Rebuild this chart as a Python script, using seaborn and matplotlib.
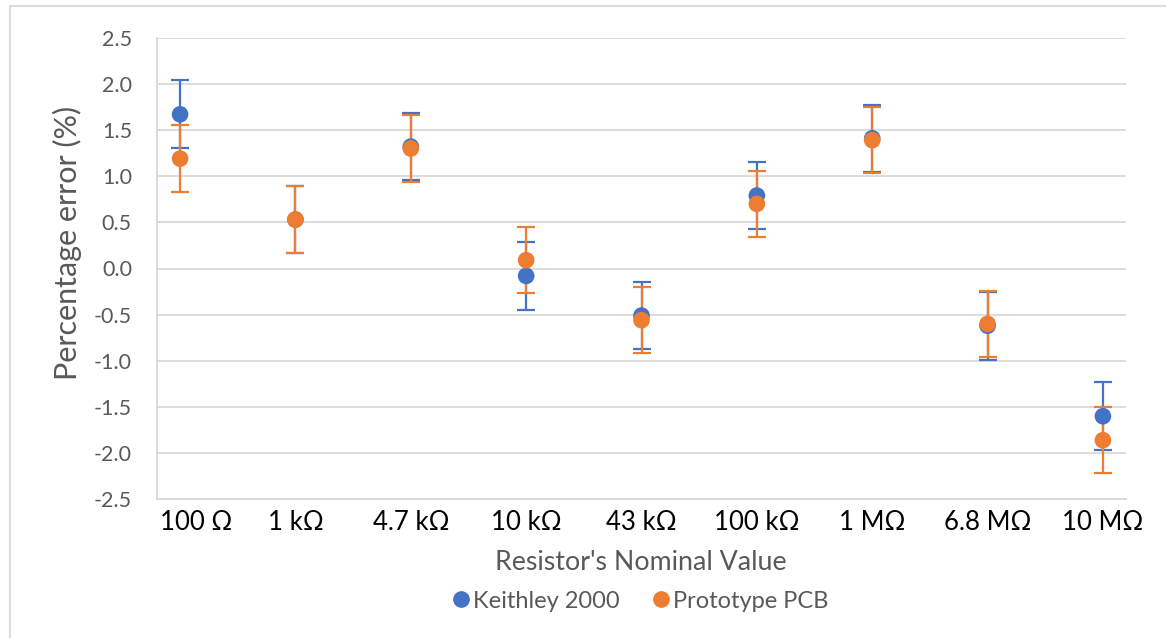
import matplotlib
matplotlib.use("Agg")
import matplotlib.pyplot as plt
import matplotlib.transforms as mtransforms
import seaborn as sns
import pandas as pd
from matplotlib.lines import Line2D

categories = ["100 Ω", "1 kΩ", "4.7 kΩ", "10 kΩ", "43 kΩ", "100 kΩ", "1 MΩ", "6.8 MΩ", "10 MΩ"]
keithley = [1.67, 0.53, 1.32, -0.08, -0.51, 0.79, 1.41, -0.62, -1.60]
prototype = [1.19, 0.53, 1.30, 0.09, -0.56, 0.70, 1.39, -0.60, -1.86]
keithley_err = [0.37, 0.36, 0.36, 0.365, 0.36, 0.36, 0.36, 0.37, 0.37]
prototype_err = [0.36, 0.36, 0.36, 0.36, 0.36, 0.36, 0.36, 0.36, 0.36]
series_names = ["Keithley 2000", "Prototype PCB"]
yticks = [-2.5, -2.0, -1.5, -1.0, -0.5, 0.0, 0.5, 1.0, 1.5, 2.0, 2.5]

BLUE = "#4472C4"
ORANGE = "#ED7D31"
GRID = "#D9D9D9"
TXT = "#595959"

sns.set_theme(style="white")
plt.rcParams["font.family"] = ["Lato", "DejaVu Sans"]
plt.rcParams["axes.unicode_minus"] = False

W, H = 1166, 638
fig = plt.figure(figsize=(W / 100, H / 100), dpi=100)
ax = fig.add_axes([157 / W, 1 - 499.3 / H, (1126 - 157) / W, (499.3 - 37.7) / H])

x = list(range(1, len(categories) + 1))
df = pd.DataFrame({
    "x": x * 2,
    "value": keithley + prototype,
    "err": keithley_err + prototype_err,
    "series": [series_names[0]] * len(x) + [series_names[1]] * len(x),
})

for (name, col, z) in [(series_names[0], BLUE, 3), (series_names[1], ORANGE, 4)]:
    sub = df[df["series"] == name]
    ax.errorbar(sub["x"], sub["value"], yerr=sub["err"], fmt="none",
                ecolor=col, elinewidth=1.6, capsize=6.5, capthick=1.6, zorder=z)

sns.scatterplot(data=df, x="x", y="value", hue="series",
                palette={series_names[0]: BLUE, series_names[1]: ORANGE},
                s=12 ** 2, edgecolor="none", legend=False, ax=ax, zorder=6)

ax.set_xlim(0.8, 9.2)
ax.set_ylim(-2.5, 2.5)
ax.set_yticks(yticks)
ax.set_yticklabels([f"{v:.1f}" for v in yticks])
ax.set_xticks(x)
ax.set_xticklabels(categories)
ax.tick_params(axis="y", labelsize=15.5, labelcolor=TXT, length=0, pad=18)
ax.tick_params(axis="x", labelsize=18.5, labelcolor="#000000", length=0, pad=8)
ax.grid(axis="y", color=GRID, linewidth=1.3)
ax.grid(axis="x", visible=False)
ax.set_axisbelow(True)
for s in ["top", "right"]:
    ax.spines[s].set_visible(False)
for s in ["left", "bottom"]:
    ax.spines[s].set_color(GRID)
    ax.spines[s].set_linewidth(1.3)
ax.set_xlabel("")
ax.set_ylabel("")

# Excel keeps the first category label inside the plot area
first = ax.get_xticklabels()[0]
first.set_transform(first.get_transform() +
                    mtransforms.ScaledTranslation(16 / 100, 0, fig.dpi_scale_trans))

fig.text(641 / W, 1 - 563 / H, "Resistor's Nominal Value", ha="center", va="center",
         fontsize=19.3, color=TXT)
fig.text(67 / W, 1 - 243 / H, "Percentage error (%)", ha="center", va="center",
         rotation=90, fontsize=22, color=TXT)

handles = [Line2D([], [], linestyle="none", marker="o", markersize=11, color=BLUE),
           Line2D([], [], linestyle="none", marker="o", markersize=11, color=ORANGE)]
fig.legend(handles, series_names, loc="center", bbox_to_anchor=(639 / W, 1 - 601 / H),
           ncol=2, frameon=False, fontsize=17, labelcolor=TXT, handletextpad=0.0,
           columnspacing=1.25, handlelength=1.0)

fig.add_artist(Line2D([10 / W, 10 / W], [0, 1 - 6 / H], transform=fig.transFigure,
                      color=GRID, linewidth=1.3))
fig.add_artist(Line2D([10 / W, 1], [1 - 6 / H, 1 - 6 / H], transform=fig.transFigure,
                      color=GRID, linewidth=1.3))

fig.savefig("out.png", dpi=100)
